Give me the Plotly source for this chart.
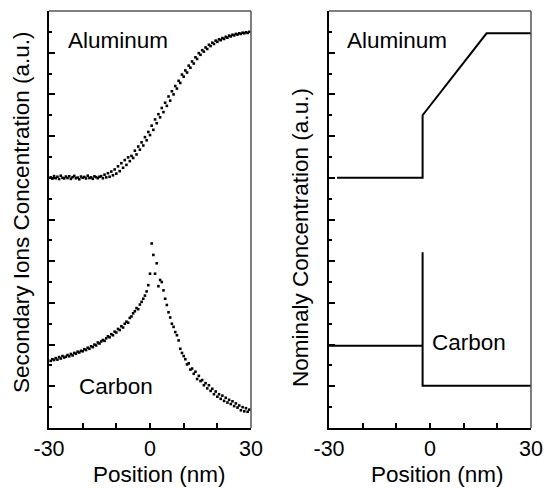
import plotly.graph_objects as go

# ---- data ----
al_x = [round(-29.5 + 0.5 * i, 1) for i in range(119)]
al_y = [12.02, 11.96, 12.08, 11.98, 12.05, 11.94, 12.10, 12.00, 11.97, 12.06,
        11.99, 12.07, 11.95, 12.03, 12.09, 11.98, 12.01, 11.93, 12.06, 12.00,
        12.04, 11.97, 12.10, 11.99, 12.02, 11.95, 12.07, 12.03, 11.98, 12.05,
        12.08, 11.98, 12.15, 12.02, 12.22, 12.05, 12.30, 12.12, 12.40, 12.20,
        12.55, 12.32, 12.70, 12.48, 12.85, 12.62, 12.98, 12.80, 13.05, 12.95,
        13.30, 13.12, 13.50, 13.35, 13.70, 13.55, 13.95, 13.80, 14.20, 14.05,
        14.50, 14.30, 14.80, 14.62, 15.05, 14.90, 15.35, 15.15, 15.60, 15.45,
        15.90, 15.70, 16.15, 16.00, 16.40, 16.28, 16.65, 16.55, 16.95, 16.85,
        17.15, 17.05, 17.38, 17.28, 17.58, 17.48, 17.78, 17.70, 17.98, 17.90,
        18.12, 18.05, 18.25, 18.18, 18.38, 18.32, 18.48, 18.42, 18.58, 18.52,
        18.64, 18.60, 18.70, 18.66, 18.76, 18.72, 18.82, 18.78, 18.86, 18.83,
        18.90, 18.87, 18.93, 18.90, 18.96, 18.93, 18.98, 18.95, 19.00]

c_x = [round(-29.5 + 0.5 * i, 1) for i in range(119)]
c_y = [3.22, 3.30, 3.26, 3.35, 3.28, 3.40, 3.33, 3.45, 3.38, 3.42,
       3.50, 3.44, 3.55, 3.48, 3.60, 3.56, 3.66, 3.62, 3.70, 3.68,
       3.78, 3.74, 3.85, 3.80, 3.92, 3.88, 4.00, 3.96, 4.10, 4.05,
       4.15, 4.22, 4.18, 4.30, 4.40, 4.35, 4.50, 4.45, 4.62, 4.58,
       4.75, 4.70, 4.88, 4.82, 5.00, 5.10, 5.05, 5.28, 5.35, 5.50,
       5.60, 5.75, 5.70, 5.92, 6.05, 6.20, 6.35, 6.55, 6.85, 7.40,
       8.85, 8.30, 7.40, 7.90, 6.80, 7.10, 7.00, 6.60, 6.20, 5.90,
       5.55, 5.30, 5.00, 4.85, 4.60, 4.45, 4.20, 3.80, 3.60, 3.45,
       3.30, 3.05, 3.10, 2.80, 2.85, 2.60, 2.70, 2.35, 2.50, 2.25,
       2.30, 2.05, 2.15, 1.90, 2.05, 1.78, 1.88, 1.62, 1.75, 1.50,
       1.62, 1.40, 1.55, 1.30, 1.45, 1.22, 1.35, 1.15, 1.28, 1.05,
       1.18, 0.98, 1.08, 0.85, 1.00, 0.80, 0.95, 0.78, 0.88]

nom_al_x = [-27.6, -2.2, -2.2, 16.8, 30]
nom_al_y = [12.0, 12.0, 15.0, 18.93, 18.93]
nom_c_x = [-30, -2.2, -2.2, -2.2, 30]
nom_c_y = [3.95, 3.95, 8.43, 2.03, 2.03]

x_ticks = [-30, 0, 30]
x_labels = ["-30", "0", "30"]
y_major = [2, 4, 6, 8, 10, 12, 14, 16, 18]

FONT = "Liberation Sans, Arial, sans-serif"
W, H = 547, 489
L1, R1 = 49, 251
L2, R2 = 329, 531
T, B = 11, 428

fig = go.Figure()
mk = dict(color="black", size=2.6, symbol="square")
fig.add_trace(go.Scatter(x=al_x, y=al_y, mode="markers", marker=mk, xaxis="x", yaxis="y"))
fig.add_trace(go.Scatter(x=c_x, y=c_y, mode="markers", marker=mk, xaxis="x", yaxis="y"))
ln = dict(color="black", width=2)
fig.add_trace(go.Scatter(x=nom_al_x, y=nom_al_y, mode="lines", line=ln, xaxis="x2", yaxis="y2"))
fig.add_trace(go.Scatter(x=nom_c_x, y=nom_c_y, mode="lines", line=ln, xaxis="x2", yaxis="y2"))

def xax(l, r, anchor):
    return dict(domain=[l / W, r / W], range=[-30, 30], anchor=anchor, automargin=False,
                showline=True, linecolor="black", linewidth=2,
                ticks="inside", ticklen=5, tickwidth=1.5, tickcolor="black",
                tickvals=x_ticks, ticktext=x_labels,
                minor=dict(ticks="inside", dtick=10, tick0=0, ticklen=5, tickwidth=1.5, tickcolor="black"),
                showgrid=False, zeroline=False,
                tickfont=dict(family=FONT, size=21.5, color="black"))

def yax(anchor):
    return dict(domain=[(H - B) / H, (H - T) / H], range=[0, 20], anchor=anchor, automargin=False,
                showline=True, linecolor="black", linewidth=2,
                ticks="inside", ticklen=6, tickwidth=1.5, tickcolor="black",
                tickvals=y_major, showticklabels=False,
                minor=dict(ticks="inside", dtick=1, tick0=0, ticklen=3, tickwidth=1.5, tickcolor="black"),
                showgrid=False, zeroline=False)

fig.update_layout(
    width=W, height=H, margin=dict(l=0, r=0, t=0, b=0, autoexpand=False),
    paper_bgcolor="white", plot_bgcolor="white", showlegend=False,
    xaxis=xax(L1, R1, "y"), yaxis=yax("x"),
    xaxis2=xax(L2, R2, "y2"), yaxis2=yax("x2"),
)

shapes = []
for l, r in [(L1, R1), (L2, R2)]:
    shapes.append(dict(type="line", xref="paper", yref="paper", x0=l / W, x1=r / W,
                       y0=(H - T) / H, y1=(H - T) / H, line=dict(color="#555", width=1.5)))
    shapes.append(dict(type="line", xref="paper", yref="paper", x0=r / W, x1=r / W,
                       y0=(H - T) / H, y1=(H - B) / H, line=dict(color="#555", width=1.5)))
fig.update_layout(shapes=shapes)

tf = dict(family=FONT, size=22.5, color="black")
ann = [
    dict(text="Aluminum", x=(68 + 168) / 2 / W, y=1 - 40 / H),
    dict(text="Carbon", x=116 / W, y=1 - 386 / H),
    dict(text="Aluminum", x=(347 + 446) / 2 / W, y=1 - 40 / H),
    dict(text="Carbon", x=469 / W, y=1 - 342 / H),
    dict(text="Position (nm)", x=159 / W, y=1 - 474 / H),
    dict(text="Position (nm)", x=437 / W, y=1 - 474 / H),
    dict(text="Secondary Ions Concentration (a.u.)", x=22 / W, y=1 - 213 / H, textangle=-90),
    dict(text="Nominaly Concentration (a.u.)", x=301 / W, y=1 - 238 / H, textangle=-90),
]
for a in ann:
    a.update(xref="paper", yref="paper", showarrow=False, font=tf,
             xanchor="center", yanchor="middle")
fig.update_layout(annotations=ann)

fig.write_html("out.html")
